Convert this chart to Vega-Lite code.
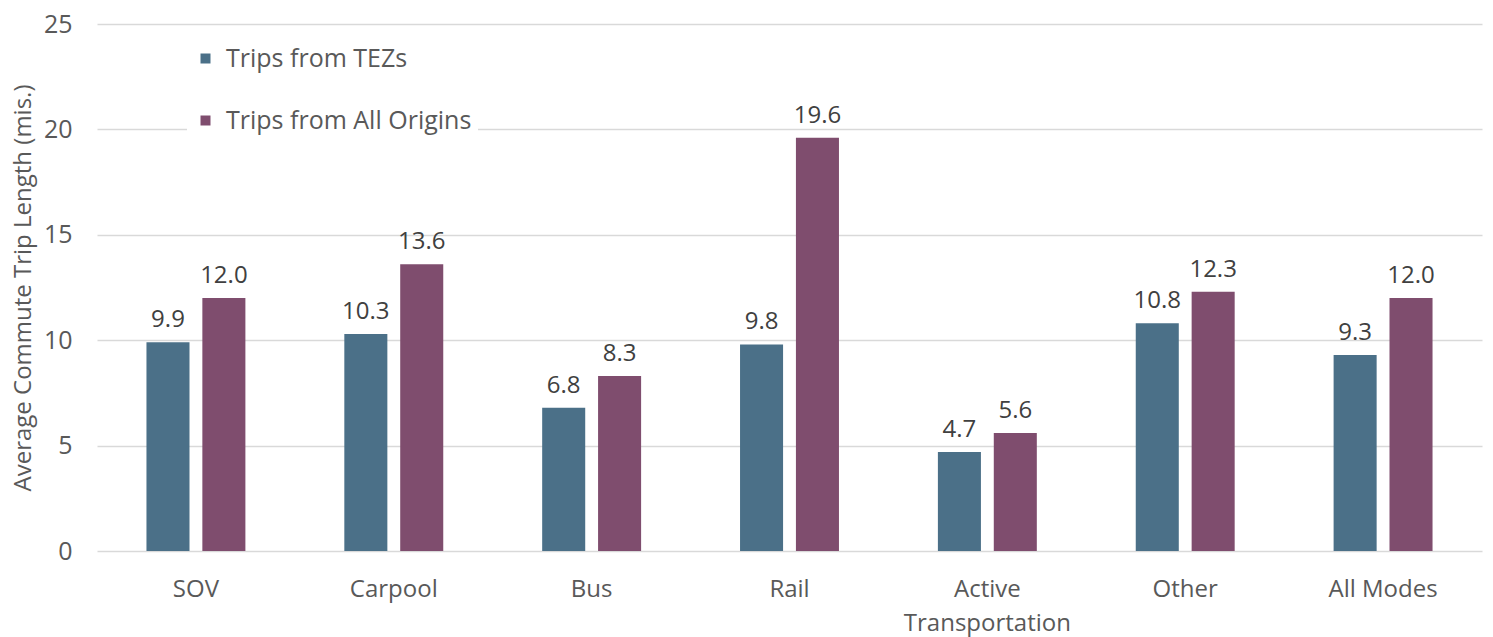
{
  "$schema": "https://vega.github.io/schema/vega-lite/v6.json",
  "width": 1385,
  "height": 527,
  "autosize": {"type": "none"},
  "padding": {"left": 97, "top": 24, "right": 11, "bottom": 86},
  "background": "white",
  "config": {
    "font": "Open Sans",
    "view": {"stroke": null},
    "axis": {"labelColor": "#595959", "titleColor": "#595959", "labelFont": "Open Sans", "titleFont": "Open Sans"}
  },
  "data": {
    "values": [
      {"mode": "SOV", "series": "Trips from TEZs", "value": 9.9},
      {"mode": "SOV", "series": "Trips from All Origins", "value": 12.0},
      {"mode": "Carpool", "series": "Trips from TEZs", "value": 10.3},
      {"mode": "Carpool", "series": "Trips from All Origins", "value": 13.6},
      {"mode": "Bus", "series": "Trips from TEZs", "value": 6.8},
      {"mode": "Bus", "series": "Trips from All Origins", "value": 8.3},
      {"mode": "Rail", "series": "Trips from TEZs", "value": 9.8},
      {"mode": "Rail", "series": "Trips from All Origins", "value": 19.6},
      {"mode": "Active Transportation", "series": "Trips from TEZs", "value": 4.7},
      {"mode": "Active Transportation", "series": "Trips from All Origins", "value": 5.6},
      {"mode": "Other", "series": "Trips from TEZs", "value": 10.8},
      {"mode": "Other", "series": "Trips from All Origins", "value": 12.3},
      {"mode": "All Modes", "series": "Trips from TEZs", "value": 9.3},
      {"mode": "All Modes", "series": "Trips from All Origins", "value": 12.0}
    ]
  },
  "encoding": {
    "x": {
      "field": "mode", "type": "nominal", "sort": null,
      "scale": {"paddingInner": 0.5, "paddingOuter": 0.25},
      "axis": {
        "title": null, "labelAngle": 0, "domain": false, "ticks": false,
        "labelFontSize": 24, "labelPadding": 26, "labelLineHeight": 34,
        "labelExpr": "datum.value == 'Active Transportation' ? ['Active', 'Transportation'] : datum.value"
      }
    },
    "xOffset": {
      "field": "series", "type": "nominal",
      "sort": ["Trips from TEZs", "Trips from All Origins"],
      "scale": {"paddingInner": 0.23, "paddingOuter": 0}
    },
    "y": {
      "field": "value", "type": "quantitative",
      "scale": {"domain": [0, 25], "nice": false},
      "axis": {
        "title": "Average Commute Trip Length (mis.)",
        "titleFontSize": 24, "titleFontWeight": "normal", "titlePadding": 8,
        "values": [0, 5, 10, 15, 20, 25], "domain": false, "ticks": false,
        "labelFontSize": 25, "labelPadding": 25, "gridColor": "#d9d9d9", "gridWidth": 1.5
      }
    }
  },
  "layer": [
    {
      "mark": {"type": "bar"},
      "encoding": {
        "color": {
          "field": "series", "type": "nominal",
          "sort": ["Trips from TEZs", "Trips from All Origins"],
          "scale": {"domain": ["Trips from TEZs", "Trips from All Origins"], "range": ["#4b7088", "#7f4d6e"]},
          "legend": {
            "title": null, "orient": "none", "legendX": 90, "legendY": 16,
            "symbolType": "square", "symbolSize": 100, "symbolStrokeWidth": 0,
            "labelFontSize": 25, "labelColor": "#595959", "labelOffset": 8, "labelLimit": 0,
            "rowPadding": 36, "fillColor": "white", "padding": 6
          }
        }
      }
    },
    {
      "mark": {"type": "text", "baseline": "alphabetic", "dy": -15, "fontSize": 24},
      "encoding": {
        "text": {"field": "value", "type": "quantitative", "format": ".1f"},
        "color": {"value": "#404040"}
      }
    }
  ]
}
